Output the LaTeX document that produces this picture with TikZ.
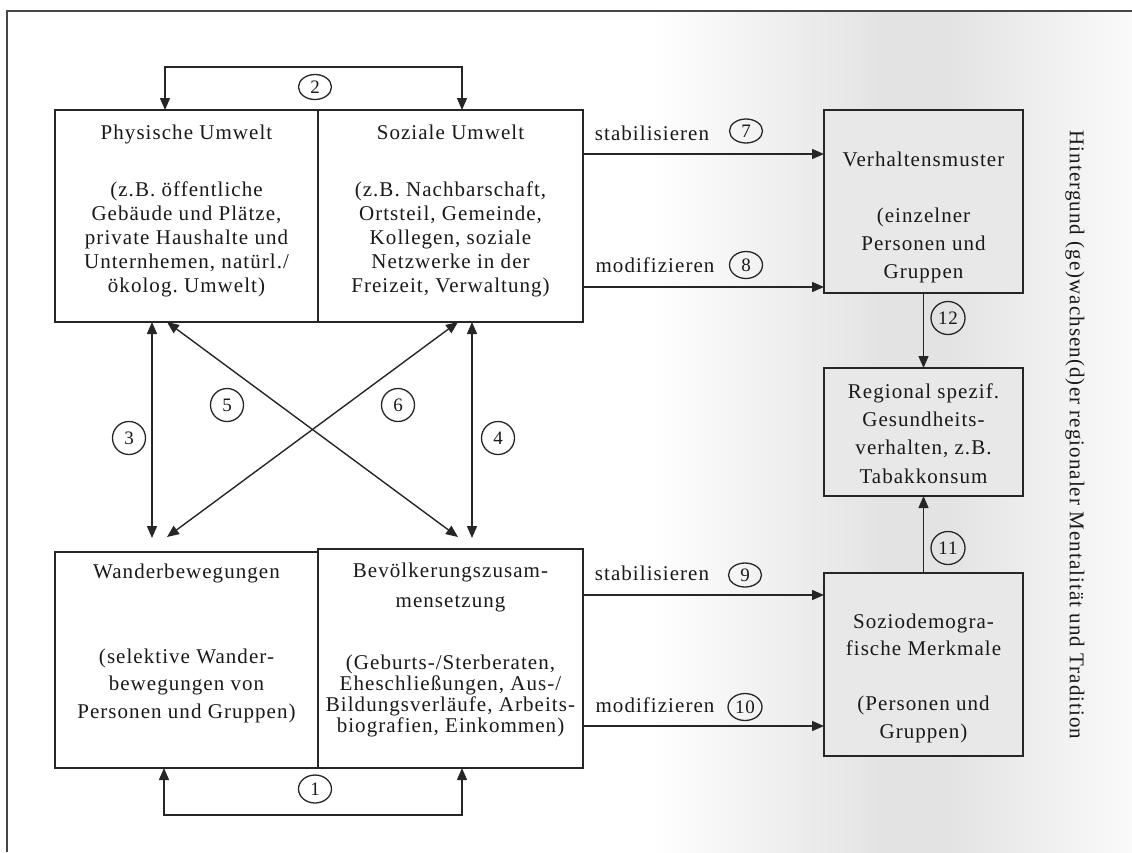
\documentclass[tikz,border=0pt]{standalone}
\usepackage{fontspec}
\setmainfont{Liberation Serif}[LetterSpace=5]
\usetikzlibrary{arrows.meta,shapes.geometric,calc}
\pgfdeclarehorizontalshading{bgshade}{100bp}{color(0bp)=(white); color(25bp)=(white); color(49bp)=(black!11); color(56bp)=(black!11); color(75bp)=(black!2); color(100bp)=(black!2)}
\begin{document}
\begin{tikzpicture}[x=1pt,y=-1pt,
  every node/.style={inner sep=0pt, outer sep=0pt},
  ln/.style={line width=1.4pt, draw=black!85},
  box/.style={ln, anchor=north west},
  graybox/.style={box, fill=black!9},
  whitebox/.style={box, fill=white},
  txt/.style={align=center, text=black!90, font=\fontsize{21}{24}\selectfont},
  lab/.style={text=black!90, font=\fontsize{21}{24}\selectfont},
  num/.style={ellipse, draw=black!85, line width=1.3pt, minimum width=33pt, text=black!90, font=\fontsize{19}{22}\selectfont},
  arr/.style={ln, -{Triangle[length=12pt,width=10pt]}},
  darr/.style={ln, {Triangle[length=12pt,width=10pt]}-{Triangle[length=12pt,width=10pt]}}
]
\useasboundingbox (0,0) rectangle (1132,852);
% background gradient
\shade[shading=bgshade] (650,12) rectangle (1132,852);
% frame
\draw[line width=2pt, gray!55!black] (7,852) -- (7,11) -- (1132,11);

% boxes
\node[whitebox, minimum width=263pt, minimum height=212pt] (PU) at (55,110) {};
\node[whitebox, minimum width=265pt, minimum height=212pt] (SU) at (318,110) {};
\node[whitebox, minimum width=263pt, minimum height=216pt] (WB) at (55,552) {};
\node[whitebox, minimum width=265pt, minimum height=219pt] (BZ) at (318,549) {};
\node[graybox, minimum width=199pt, minimum height=183pt] (VM) at (824,110) {};
\node[graybox, minimum width=199pt, minimum height=128pt] (RG) at (824,368) {};
\node[graybox, minimum width=199pt, minimum height=183pt] (SZ) at (824,573) {};

% box texts
\node[txt] (PUt) at (186.5,211) {Physische Umwelt\\[33pt](z.B. öffentliche\\Gebäude und Plätze,\\private Haushalte und\\Unternhemen, natürl./\\ökolog.\ Umwelt)};
\node[txt] (SUt) at (450.5,211) {Soziale Umwelt\\[33pt](z.B.\ Nachbarschaft,\\Ortsteil, Gemeinde,\\Kollegen, soziale\\Netzwerke in der\\Freizeit, Verwaltung)};
\node[txt, font=\fontsize{21}{27.5}\selectfont] (WBt) at (186.5,643) {Wanderbewegungen\\[57.5pt](selektive Wander-\\bewegungen von\\Personen und Gruppen)};
\node[txt, font=\fontsize{21}{20.7}\selectfont] (BZt) at (450.5,650) {Bevölkerungszusam-\\[9.3pt]mensetzung\\[41.3pt](Geburts-/Sterberaten,\\Eheschließungen, Aus-/\\Bildungsverläufe, Arbeits-\\biografien, Einkommen)};
\node[txt, font=\fontsize{21}{28}\selectfont] (VMt) at (923.5,217) {Verhaltensmuster\\[28pt](einzelner\\Personen und\\Gruppen};
\node[txt, font=\fontsize{21}{28.3}\selectfont] (RGt) at (923.5,433.5) {Regional spezif.\\Gesundheits-\\verhalten, z.B.\\Tabakkonsum};
\node[txt, font=\fontsize{21}{27.5}\selectfont] (SZt) at (923.5,678) {Soziodemogra-\\fische Merkmale\\[27.5pt](Personen und\\Gruppen)};

% helper coordinates
\coordinate (a2l) at (165,67);
\coordinate (a2r) at (462,67);
\coordinate (a1l) at (164,815);
\coordinate (a1r) at (462,815);
\coordinate (a3b) at (152,538);
\coordinate (a4b) at (472,538);
\coordinate (d5t) at (167,322);
\coordinate (d5b) at (458,537);
\coordinate (d6t) at (458,322);
\coordinate (d6b) at (167,537);
\coordinate (y7) at (0,154);
\coordinate (y8) at (0,287);
\coordinate (y9) at (0,595);
\coordinate (y10) at (0,726);

% connectors
\draw[darr] (PU.north -| a2l) -- (a2l) -- (a2r) -- (SU.north -| a2r);
\draw[darr] (WB.south -| a1l) -- (a1l) -- (a1r) -- (BZ.south -| a1r);
\draw[darr] (PU.south -| a3b) -- (a3b);
\draw[darr] (SU.south -| a4b) -- (a4b);
\draw[darr] (d5t) -- (d5b);
\draw[darr] (d6t) -- (d6b);
\draw[arr] (SU.east |- y7) -- (VM.west |- y7);
\draw[arr] (SU.east |- y8) -- (VM.west |- y8);
\draw[arr] (BZ.east |- y9) -- (SZ.west |- y9);
\draw[arr] (BZ.east |- y10) -- (SZ.west |- y10);
\draw[arr] (VM.south) -- (RG.north);
\draw[arr] (SZ.north) -- (RG.south);

% labels
\node[lab] (l7) at (652,133) {stabilisieren};
\node[lab] (l8) at (655,265) {modifizieren};
\node[lab] (l9) at (652,573) {stabilisieren};
\node[lab] (l10) at (655,705) {modifizieren};

% numbered ellipses
\node[num, fill=white, minimum height=28pt] (n1) at (315,789) {1};
\node[num, fill=white, minimum height=25pt] (n2) at (315,87) {2};
\node[num, fill=white, minimum height=33pt] (n3) at (129,438) {3};
\node[num, fill=white, minimum height=33pt] (n4) at (498,438) {4};
\node[num, fill=white, minimum height=33pt] (n5) at (227,405) {5};
\node[num, fill=white, minimum height=33pt] (n6) at (398,405) {6};
\node[num, minimum height=24pt] (n7) at (746,131) {7};
\node[num, minimum height=27pt] (n8) at (746,265) {8};
\node[num, minimum height=24pt] (n9) at (745,575) {9};
\node[num, minimum height=27pt, minimum width=34pt] (n10) at (745,707) {10};
\node[num, minimum height=33pt, minimum width=34pt] (n11) at (948,548) {11};
\node[num, minimum height=33pt, minimum width=34pt] (n12) at (948,318) {12};

% vertical background label
\node[lab, rotate=-90] (bg) at (1075,435) {Hintergund (ge)wachsen(d)er regionaler Mentalität und Tradition};
\end{tikzpicture}
\end{document}
